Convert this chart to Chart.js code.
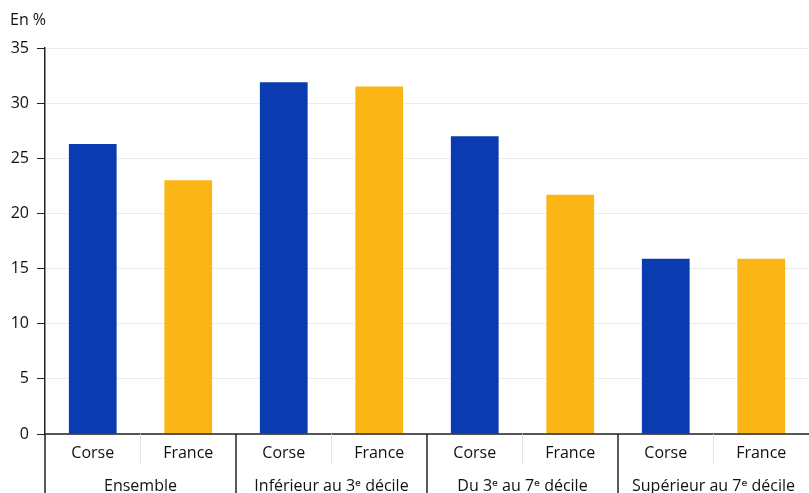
<!DOCTYPE html>
<html>
<head>
<meta charset="utf-8">
<script src="https://cdn.jsdelivr.net/npm/chart.js@4"></script>
<style>
  html, body { margin: 0; padding: 0; background: #fff; }
  #wrap { width: 809px; height: 493px; position: relative; }
</style>
</head>
<body>
<div id="wrap"><canvas id="chart"></canvas></div>
<script>
// data
const groups = ['Ensemble', 'Inférieur au 3ᵉ décile', 'Du 3ᵉ au 7ᵉ décile', 'Supérieur au 7ᵉ décile'];
const seriesNames = ['Corse', 'France'];
const corse = [26.3, 31.9, 27.0, 15.9];
const france = [23.0, 31.5, 21.7, 15.9];
const yTicks = [0, 5, 10, 15, 20, 25, 30, 35];

const FONT = '"Open Sans", "Noto Sans", "DejaVu Sans", sans-serif';
const BLUE = '#0a3bb0';
const YELLOW = '#fbb615';

// draws the two-level x axis (series names + group names) and the separators
const groupAxis = {
    id: 'groupAxis',
    afterDraw(chart) {
        const ctx = chart.ctx;
        const area = chart.chartArea;
        const xs = chart.scales.x;
        const bottom = chart.height;
        ctx.save();

        // baseline
        ctx.strokeStyle = '#222';
        ctx.lineWidth = 1.5;
        ctx.beginPath();
        ctx.moveTo(area.left, area.bottom);
        ctx.lineTo(area.right, area.bottom);
        ctx.stroke();

        const half = (xs.getPixelForValue(1) - xs.getPixelForValue(0)) / 2;
        ctx.font = '16px ' + FONT;
        ctx.fillStyle = '#111';
        ctx.textAlign = 'center';
        ctx.textBaseline = 'middle';

        groups.forEach((g, i) => {
            const cx = xs.getPixelForValue(i);
            const left = cx - half;
            // group separator
            ctx.strokeStyle = '#222';
            ctx.lineWidth = 1.5;
            ctx.beginPath();
            ctx.moveTo(left, area.bottom);
            ctx.lineTo(left, bottom);
            ctx.stroke();
            // faint separator between series
            ctx.strokeStyle = '#e6e6e6';
            ctx.lineWidth = 1;
            ctx.beginPath();
            ctx.moveTo(cx, area.bottom);
            ctx.lineTo(cx, area.bottom + 30);
            ctx.stroke();

            seriesNames.forEach((s, d) => {
                const bar = chart.getDatasetMeta(d).data[i];
                ctx.fillText(s, bar.x, area.bottom + 19);
            });
            ctx.fillText(g, cx, area.bottom + 52);
        });

        // "En %" unit label
        ctx.textAlign = 'left';
        ctx.fillText('En %', 10, 20);
        ctx.restore();
    }
};

new Chart(document.getElementById('chart'), {
    type: 'bar',
    data: {
        labels: groups,
        datasets: [
            { label: seriesNames[0], data: corse, backgroundColor: BLUE },
            { label: seriesNames[1], data: france, backgroundColor: YELLOW }
        ]
    },
    options: {
        responsive: true,
        maintainAspectRatio: false,
        animation: false,
        categoryPercentage: 1,
        barPercentage: 0.5,
        layout: { padding: { top: 48, bottom: 59, right: 0, left: 0 } },
        plugins: {
            legend: { display: false },
            tooltip: { enabled: false }
        },
        scales: {
            x: { display: false },
            y: {
                min: 0,
                max: 35,
                afterBuildTicks: axis => { axis.ticks = yTicks.map(v => ({ value: v })); },
                afterFit: axis => { axis.width = 45; },
                border: { color: '#222', width: 1.5 },
                grid: { color: '#ececec', tickColor: '#222', tickLength: 8 },
                ticks: {
                    color: '#111',
                    padding: 8,
                    font: { size: 16, family: FONT }
                }
            }
        }
    },
    plugins: [groupAxis]
});
</script>
</body>
</html>
